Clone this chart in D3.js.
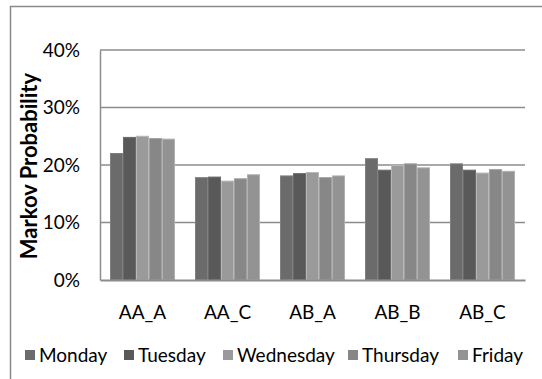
<!DOCTYPE html>
<html>
<head>
<meta charset="utf-8">
<script src="https://cdn.jsdelivr.net/npm/d3@7"></script>
<style>
  html, body { margin: 0; padding: 0; background: #fff; }
  svg { display: block; }
  text { font-family: Lato, "Liberation Sans", sans-serif; fill: #000; }
</style>
</head>
<body>
<svg id="chart" width="542" height="379"></svg>
<script>
const categories = ["AA_A", "AA_C", "AB_A", "AB_B", "AB_C"];
const seriesNames = ["Monday", "Tuesday", "Wednesday", "Thursday", "Friday"];
const monday    = [0.220, 0.178, 0.181, 0.211, 0.202];
const tuesday   = [0.248, 0.179, 0.185, 0.191, 0.191];
const wednesday = [0.250, 0.172, 0.187, 0.199, 0.186];
const thursday  = [0.246, 0.176, 0.178, 0.202, 0.192];
const friday    = [0.245, 0.183, 0.181, 0.195, 0.189];
const yTicks = [0, 0.1, 0.2, 0.3, 0.4];
const seriesColors = ["#6b6b6b", "#595959", "#9a9a9a", "#878787", "#939393"];

const seriesValues = [monday, tuesday, wednesday, thursday, friday];
const svg = d3.select("#chart");

// outer frame
svg.append("rect").attr("x", 10.5).attr("y", 6.5).attr("width", 620).attr("height", 420)
  .attr("fill", "none").attr("stroke", "#8a8a8a").attr("stroke-width", 1.5);

const plot = {left: 100, right: 525, top: 50, bottom: 280};
const p = 20 / 85;
const x0 = d3.scaleBand().domain(categories).range([plot.left, plot.right])
  .paddingInner(p).paddingOuter(p / 2);
const x1 = d3.scaleBand().domain(seriesNames).range([0, x0.bandwidth()]);
const y = d3.scaleLinear().domain([0, 0.4]).range([plot.bottom, plot.top]);

// gridlines
svg.append("g").selectAll("line").data(yTicks.filter(d => d > 0)).join("line")
  .attr("x1", plot.left).attr("x2", plot.right)
  .attr("y1", d => y(d)).attr("y2", d => y(d))
  .attr("stroke", "#8c8c8c").attr("stroke-width", 1.5);

// y axis
const yAxis = d3.axisLeft(y).tickValues(yTicks).tickFormat(d3.format(".0%")).tickSize(0).tickPadding(20);
const gy = svg.append("g").attr("transform", `translate(${plot.left},0)`).call(yAxis);
gy.select(".domain").attr("stroke", "#8c8c8c").attr("stroke-width", 1.5);
gy.selectAll("text").attr("font-size", 19).attr("font-family", "Lato, sans-serif").attr("fill", "#000");

// bars
const groups = svg.append("g").selectAll("g").data(seriesNames).join("g")
  .attr("fill", (d, i) => seriesColors[i]);
groups.each(function(name, si) {
  d3.select(this).selectAll("rect").data(categories).join("rect")
    .attr("x", c => x0(c) + x1(name) + 0.5)
    .attr("width", x1.bandwidth() - 1)
    .attr("y", (c, ci) => y(seriesValues[si][ci]))
    .attr("height", (c, ci) => plot.bottom - y(seriesValues[si][ci]))
    .attr("stroke", d3.color(seriesColors[si]).brighter(0.5))
    .attr("stroke-width", 1);
});

// x axis
const xAxis = d3.axisBottom(x0).tickSize(0).tickPadding(26);
const gx = svg.append("g").attr("transform", `translate(0,${plot.bottom})`).call(xAxis);
gx.select(".domain").attr("stroke", "#8c8c8c").attr("stroke-width", 2);
gx.selectAll("text").attr("font-size", 19).attr("font-family", "Lato, sans-serif").attr("fill", "#000");

// y title
svg.append("text")
  .attr("transform", `translate(37,${(plot.top + plot.bottom) / 2 + 1}) rotate(-90)`)
  .attr("text-anchor", "middle")
  .attr("font-size", 22).attr("font-weight", "bold")
  .text("Markov Probability");

// legend
const legendX = [25, 124, 223, 348, 458];
const lg = svg.append("g").selectAll("g").data(seriesNames).join("g")
  .attr("transform", (d, i) => `translate(${legendX[i]},355)`);
lg.append("rect").attr("x", 0).attr("y", -5).attr("width", 10).attr("height", 10)
  .attr("fill", (d, i) => seriesColors[i]);
lg.append("text").attr("x", 14).attr("y", 0).attr("dy", "0.35em")
  .attr("font-size", 19).text(d => d);
</script>
</body>
</html>
